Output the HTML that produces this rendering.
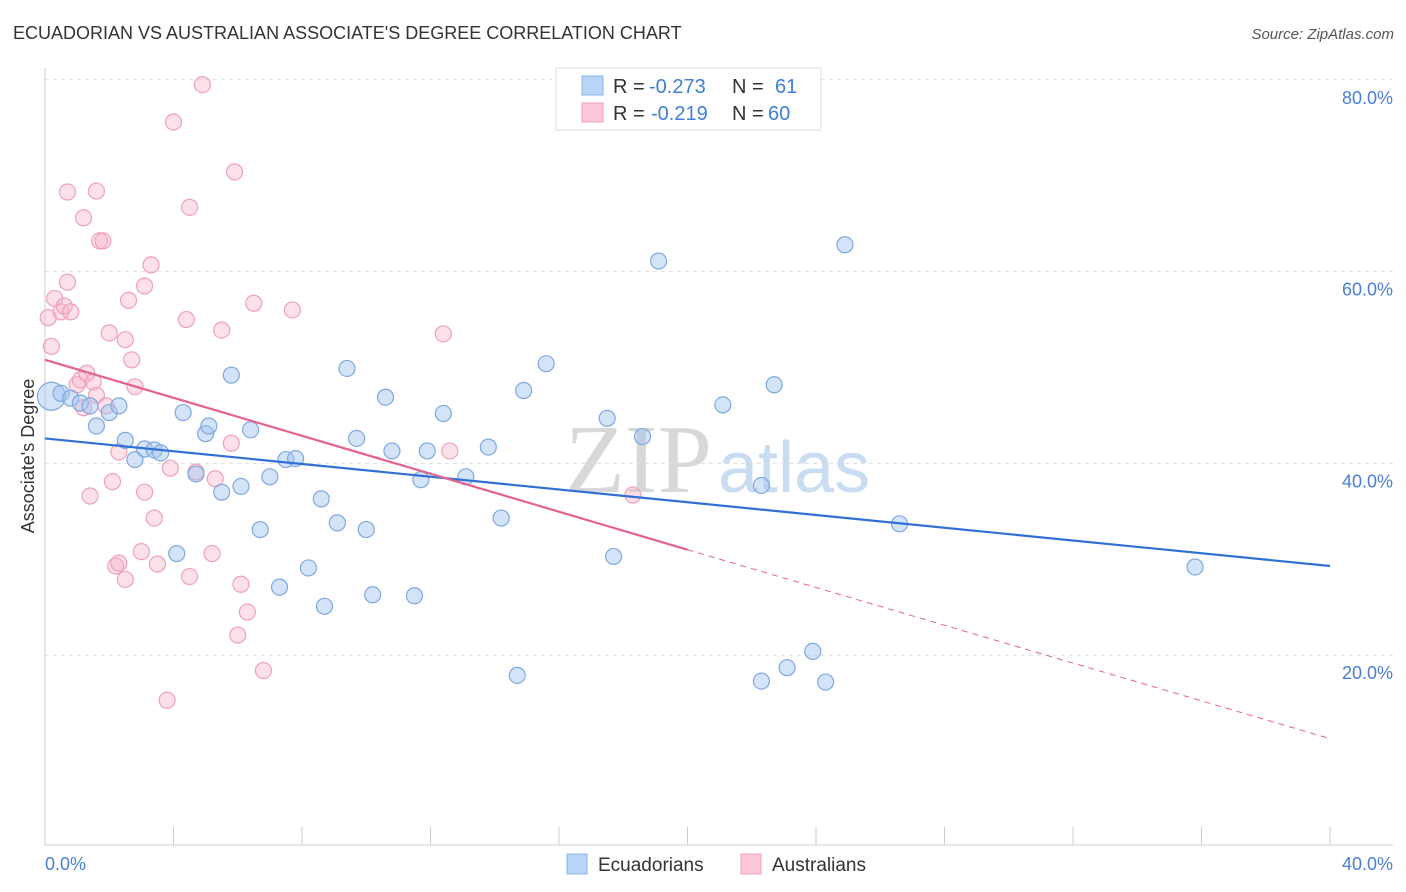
<!DOCTYPE html>
<html><head><meta charset="utf-8"><style>
body{margin:0;background:#fff;font-family:"Liberation Sans",sans-serif;}
#wrap{position:relative;width:1406px;height:892px;overflow:hidden;}
</style></head><body>
<div id="wrap">
<svg id="svg" width="1406" height="892" xmlns="http://www.w3.org/2000/svg">
<text x="13" y="39" font-size="18" fill="#333">ECUADORIAN VS AUSTRALIAN ASSOCIATE'S DEGREE CORRELATION CHART</text>
<text x="1394" y="39" font-size="15" fill="#555" font-style="italic" text-anchor="end">Source: ZipAtlas.com</text>
<text x="712" y="492" font-size="98" fill="#d8d8d8" font-family="Liberation Serif,serif" text-anchor="end">ZIP</text>
<text x="718" y="492" font-size="72" fill="#c8dcf2">atlas</text>
<g id="grid"></g><g id="marks"></g>
<text transform="translate(34,456) rotate(-90)" font-size="18" fill="#333" text-anchor="middle">Associate's Degree</text>
<text x="45" y="870" font-size="18" fill="#4a7fd4">0.0%</text>
<text x="1393" y="870" font-size="18" fill="#4a7fd4" text-anchor="end">40.0%</text>
<rect x="556" y="68" width="265" height="62" fill="#fff" stroke="#ddd"/>
<rect x="582" y="76" width="21" height="19" fill="#b8d4f6" stroke="#8ab4e8"/>
<rect x="582" y="103" width="21" height="19" fill="#fdc8d8" stroke="#f0a0bc"/>
<text y="93" font-size="20"><tspan x="613" fill="#333">R = </tspan><tspan x="649" fill="#3f7fd8">-0.273</tspan><tspan x="732" fill="#333">N = </tspan><tspan x="775" fill="#3f7fd8">61</tspan></text>
<text y="120" font-size="20"><tspan x="613" fill="#333">R = </tspan><tspan x="651" fill="#3f7fd8">-0.219</tspan><tspan x="732" fill="#333">N = </tspan><tspan x="768" fill="#3f7fd8">60</tspan></text>
<rect x="567" y="854" width="20" height="20" fill="#b8d4f6" stroke="#8ab4e8"/>
<text x="598" y="871" font-size="19" fill="#333">Ecuadorians</text>
<rect x="741" y="854" width="20" height="20" fill="#fdc8d8" stroke="#f0a0bc"/>
<text x="772" y="871" font-size="19" fill="#333">Australians</text>
</svg></div>
<script>
const yTicks=[20,40,60,80];
const yTickLabels=["20.0%","40.0%","60.0%","80.0%"];
const blueX=[0.2,0.5,0.8,1.1,1.4,1.6,2.0,2.3,2.5,2.8,3.1,3.4,3.6,4.1,4.3,4.7,5.0,5.1,5.5,5.8,6.1,6.4,6.7,7.0,7.3,7.5,7.8,8.2,8.6,8.7,9.1,9.4,9.7,10.0,10.2,10.6,10.8,11.5,11.7,11.9,12.4,13.1,13.8,14.2,14.7,14.9,15.6,17.5,17.7,18.6,19.1,21.1,22.3,22.3,22.7,23.1,23.9,24.3,24.9,26.6,35.8];
const blueY=[47.0,47.3,46.8,46.3,46.0,43.9,45.3,46.0,42.4,40.4,41.5,41.4,41.1,30.6,45.3,38.9,43.1,43.9,37.0,49.2,37.6,43.5,33.1,38.6,27.1,40.4,40.5,29.1,36.3,25.1,33.8,49.9,42.6,33.1,26.3,46.9,41.3,26.2,38.3,41.3,45.2,38.6,41.7,34.3,17.9,47.6,50.4,44.7,30.3,42.8,61.1,46.1,17.3,37.7,48.2,18.7,20.4,17.2,62.8,33.7,29.2];
const pinkX=[0.1,0.2,0.3,0.5,0.6,0.7,0.7,0.8,1.0,1.1,1.2,1.2,1.3,1.4,1.5,1.6,1.6,1.7,1.8,1.9,2.0,2.1,2.2,2.3,2.3,2.5,2.5,2.6,2.7,2.8,3.0,3.1,3.1,3.3,3.4,3.5,3.8,3.9,4.0,4.4,4.5,4.5,4.7,4.9,5.2,5.3,5.5,5.8,5.9,6.1,6.0,6.3,6.5,6.8,7.7,12.4,12.6,18.3];
const pinkY=[55.2,52.2,57.2,55.8,56.4,58.9,68.3,55.8,48.2,48.7,45.8,65.6,49.4,36.6,48.5,47.1,68.4,63.2,63.2,46.0,53.6,38.1,29.3,41.2,29.6,52.9,27.9,57.0,50.8,48.0,30.8,58.5,37.0,60.7,34.3,29.5,15.3,39.5,75.6,55.0,66.7,28.2,39.1,79.5,30.6,38.4,53.9,42.1,70.4,27.4,22.1,24.5,56.7,18.4,56.0,53.5,41.3,36.7];
const blueTrend=[42.6,29.3];
const pinkTrend=[50.8,31.0,11.3];
const NS="http://www.w3.org/2000/svg";
const xs=v=>45+v*32.125, ys=v=>847-v*9.59;
function mk(t,a,p){const e=document.createElementNS(NS,t);for(const k in a)e.setAttribute(k,a[k]);p.appendChild(e);return e;}
const g=document.getElementById('grid'), m=document.getElementById('marks');
yTicks.forEach((t,i)=>{
 const l=mk('line',{x1:45,x2:1393,y1:ys(t),y2:ys(t),stroke:'#ddd','stroke-dasharray':'4,4'},g);
 
 
 const tx=mk('text',{x:1393,y:ys(t)+24,'font-size':18,fill:'#4a7fd4','text-anchor':'end'},g);
 tx.textContent=yTickLabels[i];
 
 
});
const ax=mk('path',{d:'M45,68V845H1393',stroke:'#ccc',fill:'none'},g);


for(let i=0;i<=10;i++){const t=mk('line',{x1:xs(i*4),x2:xs(i*4),y1:827,y2:845,stroke:'#ccc'},g);
 
 }
pinkX.forEach((x,i)=>{const c=mk('circle',{cx:xs(x),cy:ys(pinkY[i]),r:8,fill:'rgba(248,180,200,0.4)',stroke:'#f0a0bc','stroke-width':1.2},m);
 
 });
blueX.forEach((x,i)=>{const c=mk('circle',{cx:xs(x),cy:ys(blueY[i]),r:i==0?14:8,fill:'rgba(160,196,240,0.45)',stroke:'#7fa8e0','stroke-width':1.2},m);
 
 });
const bl=mk('line',{x1:xs(0),y1:ys(blueTrend[0]),x2:xs(40),y2:ys(blueTrend[1]),stroke:'#2f6fd6','stroke-width':2.2},m);


const pl=mk('line',{x1:xs(0),y1:ys(pinkTrend[0]),x2:xs(20),y2:ys(pinkTrend[1]),stroke:'#e4628e','stroke-width':2.2},m);


const pd=mk('line',{x1:xs(20),y1:ys(pinkTrend[1]),x2:xs(40),y2:ys(pinkTrend[2]),stroke:'#e4628e','stroke-width':1,'stroke-dasharray':'6,5'},m);


</script>
</body></html>
